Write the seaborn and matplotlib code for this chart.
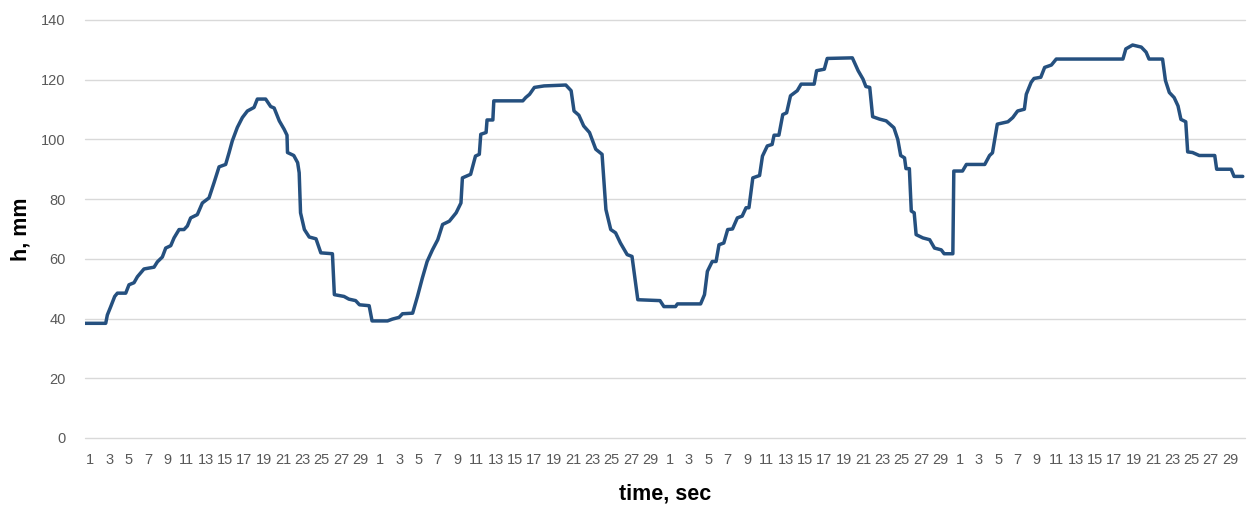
import matplotlib
matplotlib.use("Agg")
import matplotlib.pyplot as plt
import seaborn as sns
import pandas as pd

# Water level record: four 30-second cycles, time in seconds from start
t_sec = [
    0, 2.14, 2.31, 2.66, 3.07, 3.35, 4.21, 4.55, 5.07, 5.42, 6.1, 7.14, 7.49, 8.0,
    8.35, 8.87, 9.21, 9.73, 10.24, 10.59, 10.93, 11.62, 12.14, 12.83, 13.35, 13.87,
    14.55, 14.9, 15.24, 15.76, 16.28, 16.8, 17.49, 17.83, 18.69, 19.21,
    19.57, 20.1, 20.6, 20.9, 20.95, 21.6, 22.0, 22.16, 22.3, 22.7, 23.2, 23.9, 24.4,
    25.6, 25.8, 26.8, 27.3, 28.0, 28.4, 29.4, 29.7, 31.3, 31.8, 32.5, 32.85, 33.9,
    34.4, 34.9, 35.4, 35.95, 36.5, 37.0, 37.7, 38.4, 38.9, 39.05,
    39.9, 40.4, 40.8, 40.95, 41.5, 41.6, 42.2, 42.3, 45.3, 45.6, 46.0, 46.5, 47.5,
    49.75, 50.3, 50.6, 51.1, 51.6, 52.2, 52.85, 53.5, 53.9, 54.4, 54.9, 55.4, 56.1,
    56.6, 57.2, 59.5,
    59.9, 61.1, 61.3, 63.7, 64.1, 64.4, 64.9, 65.3, 65.6, 66.1, 66.5, 67.0, 67.5,
    68.0, 68.4, 68.7, 69.1, 69.8, 70.1, 70.6, 71.1, 71.3, 71.8, 72.2, 72.6, 73.0,
    73.7, 74.1, 75.45, 75.7, 76.5, 76.8, 79.4,
    80.0, 80.5, 80.8, 81.2, 81.5, 82.2, 82.9, 83.7, 84.1, 84.4, 84.8, 84.95, 85.3,
    85.5, 85.8, 86.0, 86.7, 87.4, 87.9, 88.6, 88.9, 89.8, 89.9, 90.8, 91.2, 93.1,
    93.6, 93.9, 94.4, 95.5, 96.0, 96.5, 97.2, 97.4, 97.9, 98.2,
    98.9, 99.3, 100.0, 100.5, 107.4, 107.7, 108.4, 109.3, 109.8, 110.1, 111.5,
    111.8, 112.2, 112.7, 113.1, 113.4, 113.9, 114.1, 114.6, 115.3, 116.9, 117.1,
    118.6, 118.9, 119.8,
]
h_mm = [
    38.4, 38.4, 41.2, 44, 47.4, 48.5, 48.5, 51.3, 52, 54, 56.6, 57.2, 59, 60.6,
    63.6, 64.4, 67, 69.8, 69.8, 71, 73.7, 74.8, 78.7, 80.4, 85.5, 90.8,
    91.6, 95.5, 99.5, 104, 107.3, 109.5, 110.7, 113.5, 113.5, 111,
    110.5, 106.2, 103.4, 101.4, 95.6, 94.6, 92.2, 88.8, 75.4, 69.8, 67.3, 66.7, 62,
    61.7, 48, 47.4, 46.5, 46, 44.6, 44.3, 39.2, 39.2, 39.8, 40.4, 41.6, 41.8,
    47.4, 53.5, 59.1, 63, 66.4, 71.5, 72.6, 75.4, 78.7, 87.1,
    88.3, 94.4, 95, 101.7, 102.3, 106.5, 106.5, 112.9, 112.9, 114, 115.1, 117.4, 117.9,
    118.2, 116.3, 109.5, 108.1, 104.5, 102.3, 96.7, 95, 76.5, 69.8, 68.7, 65.3, 61.4,
    60.8, 46.3, 46,
    44, 44, 44.9, 44.9, 48, 55.8, 59.1, 59.1, 64.7, 65.3, 69.8, 70, 73.7,
    74.3, 77.1, 77.1, 87.1, 87.9, 94.4, 97.8, 98.3, 101.4, 101.4, 108.3, 108.9, 114.6,
    116.3, 118.5, 118.5, 123, 123.5, 127.1, 127.3,
    123, 120.2, 117.7, 117.4, 107.6, 106.8, 106.2, 103.9, 100, 94.6, 93.8, 90.2, 90.2,
    76, 75.4, 68.1, 67, 66.4, 63.6, 63, 61.7, 61.7, 89.4, 89.4, 91.6, 91.6,
    94.6, 95.5, 105.1, 105.9, 107.3, 109.5, 110.1, 115.1, 119.1, 120.4,
    120.8, 124.1, 124.9, 126.9, 126.9, 130.3, 131.6, 130.9, 129.2, 126.9, 126.9,
    119.7, 115.7, 114, 111.2, 106.7, 105.9, 95.8, 95.6, 94.6, 94.6, 90.0,
    90.0, 87.6, 87.6,
]

# Axis labels: seconds within each cycle, every other second
tick_pos = [0.5 + 2 * k for k in range(60)]
tick_text = [str(1 + 2 * (k % 15)) for k in range(60)]
y_ticks = [0, 20, 40, 60, 80, 100, 120, 140]

df = pd.DataFrame({"t": t_sec, "h": h_mm})

sns.set_theme(style="white")
plt.rcParams["font.family"] = ["Liberation Sans", "DejaVu Sans"]

fig = plt.figure(figsize=(12.56, 5.11), dpi=100)
ax = fig.add_axes([0.0677, 0.1429, 0.9233, 0.8181])

sns.lineplot(data=df, x="t", y="h", ax=ax, color="#25507f", linewidth=2.5,
             estimator=None, sort=False)

ax.set_xlim(0, 120)
ax.set_ylim(0, 140)
ax.set_yticks(y_ticks)
ax.set_xticks(tick_pos)
ax.set_xticklabels(tick_text)
ax.tick_params(axis="both", length=0, labelsize=10.5, labelcolor="#595959")
ax.tick_params(axis="x", pad=11)
ax.tick_params(axis="y", pad=14)
for lbl in ax.get_xticklabels() + ax.get_yticklabels():
    lbl.set_family(["Liberation Sans Narrow", "Liberation Sans"])

ax.grid(axis="y", color="#d9d9d9", linewidth=1.0)
for gl in ax.get_ygridlines():
    gl.set_clip_on(False)
ax.set_axisbelow(True)
for side in ["top", "right", "left", "bottom"]:
    ax.spines[side].set_visible(False)

ax.set_xlabel("time, sec", fontsize=15.5, fontweight="bold", color="black", labelpad=12)
ax.set_ylabel("h, mm", fontsize=15.5, fontweight="bold", color="black", labelpad=7)

fig.savefig("out.png", dpi=100)
